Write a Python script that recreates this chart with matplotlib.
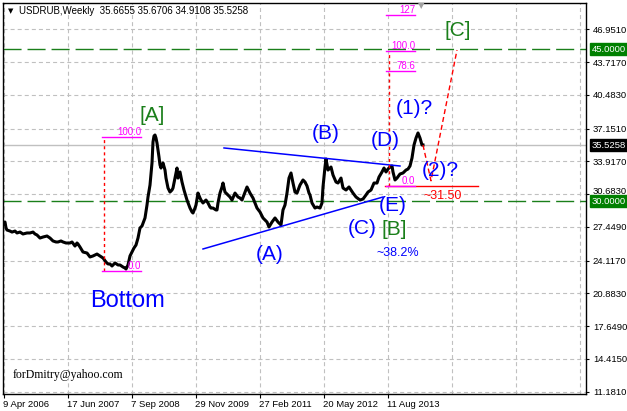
import matplotlib
matplotlib.use('Agg')
import matplotlib.pyplot as plt
import matplotlib.transforms as mtransforms

plt.rcParams['lines.scale_dashes'] = False
plt.rcParams['font.family'] = ['Liberation Sans', 'DejaVu Sans']

# ---------------- data (weekly bar index from 9 Apr 2006, price) ----------------
weeks = [0, 1, 2, 3, 6, 8, 11, 13, 16, 19, 23, 26, 29, 31, 33, 36, 39, 43, 46, 49,
         52, 54, 57, 59, 62, 64, 66, 68, 71, 73, 74, 76, 79, 83, 86, 89, 91, 93, 96, 99,
         102, 104, 106, 108, 111, 114, 116, 119, 121, 122, 124, 126, 128, 130, 132, 134, 136, 138, 141, 143,
         144, 146, 148, 149, 150, 151, 152, 153, 154, 155, 156, 157, 158, 159, 161, 162, 164, 166, 168, 169,
         171, 172, 173, 174, 176, 178, 180, 183, 186, 188, 189, 191, 192, 194, 196, 197, 199, 202, 204, 206,
         207, 209, 212, 213, 214, 216, 218, 219, 221, 224, 226, 228, 231, 234, 236, 238, 241, 243, 246, 249,
         251, 253, 256, 259, 261, 263, 265, 268, 271, 274, 277, 279, 281, 283, 285, 287, 289, 291, 293, 296,
         299, 301, 303, 305, 306, 308, 311, 313, 316, 318, 319, 321, 322, 324, 327, 329, 332, 334, 337, 339,
         342, 345, 349, 352, 356, 359, 362, 364, 367, 370, 373, 375, 378, 380, 382, 384, 386, 388, 389, 391,
         393, 396, 399, 402, 404, 406, 408, 410, 412, 414, 416, 418, 419]
close = [27.83, 27.93, 27.34, 27.14, 27.04, 26.94, 27.04, 26.85, 26.94, 26.75, 26.85, 26.85, 26.94, 26.75, 26.65, 26.35, 26.45, 26.55, 26.35, 26.06,
         25.96, 25.96, 26.06, 25.96, 25.86, 25.86, 25.86, 25.96, 25.56, 25.86, 25.76, 25.46, 24.97, 24.87, 24.48, 24.58, 24.67, 24.77, 24.58, 24.38,
         23.98, 23.79, 23.79, 23.59, 23.89, 23.69, 23.69, 23.49, 23.39, 23.29, 23.69, 24.58, 24.97, 25.37, 25.66, 26.35, 27.34, 27.54, 28.33, 29.61,
         30.40, 31.58, 33.76, 35.83, 36.42, 36.52, 36.22, 35.73, 35.04, 34.35, 33.56, 33.26, 33.56, 33.76, 33.06, 32.27, 31.29, 30.89, 31.09, 31.29,
         32.27, 32.77, 33.26, 32.27, 32.87, 31.88, 31.09, 30.10, 29.31, 28.92, 28.82, 29.31, 29.61, 30.79, 30.30, 30.10, 29.81, 30.10, 29.81, 29.41,
         29.31, 29.31, 29.12, 29.12, 29.81, 30.79, 31.39, 31.78, 30.89, 30.60, 30.40, 30.10, 30.79, 30.40, 30.30, 30.10, 30.89, 31.39, 30.79, 30.30,
         29.81, 29.31, 28.92, 28.33, 28.13, 27.93, 27.44, 27.93, 28.33, 27.93, 27.64, 29.12, 29.61, 30.79, 32.27, 32.77, 31.78, 30.89, 30.79, 31.58,
         32.08, 31.88, 31.49, 30.79, 30.60, 29.81, 29.31, 29.41, 29.31, 29.81, 31.39, 33.36, 34.15, 33.06, 33.36, 32.57, 31.88, 31.78, 32.27, 31.29,
         31.09, 31.39, 30.79, 30.40, 30.10, 30.20, 30.60, 30.89, 31.09, 31.78, 31.78, 32.37, 32.87, 33.26, 32.87, 33.16, 33.36, 33.46, 32.87, 32.08,
         32.27, 32.67, 32.77, 33.06, 33.16, 33.46, 34.25, 35.53, 36.22, 36.72, 36.22, 35.53, 35.53]

date_ticks = [0, 64, 128, 192, 256, 320, 384]
date_labels = ['9 Apr 2006', '17 Jun 2007', '7 Sep 2008', '29 Nov 2009',
               '27 Feb 2011', '20 May 2012', '11 Aug 2013']
grid_weeks = [0, 64, 128, 192, 256, 320, 384, 448, 512, 576]
price_ticks = [11.181, 14.415, 17.649, 20.883, 24.117, 27.449,
               30.683, 33.917, 37.151, 40.483, 43.717, 46.951]

level_high = 45.0
level_low = 30.0
last_close = 35.5258
title_text = 'USDRUB,Weekly  35.6655 35.6706 34.9108 35.5258'

fib1_weeks = [98, 137]
fib1_anchor = 100
fib1_names = ['100.0', '0.0']
fib1_levels = [36.32, 23.13]

fib2_weeks = [382, 411]
fib2_anchor = 385
fib2_names = ['127', '100.0', '78.6', '0.0']
fib2_levels = [48.36, 44.84, 42.87, 31.49]

support_weeks = [381, 474]
support_level = 31.49

proj_weeks = [419, 427, 453]
proj_prices = [35.53, 32.0, 44.91]

tri_upper_weeks = [220, 396]
tri_upper_prices = [35.24, 33.46]
tri_lower_weeks = [199, 379]
tri_lower_prices = [25.27, 30.40]

wave_texts = ['(A)', '(B)', '(C)', '(D)', '(E)', '(1)?', '(2)?']
wave_weeks = [266, 322, 358, 381, 389, 410, 436]
wave_prices = [24.77, 36.62, 27.34, 36.02, 29.61, 39.18, 33.06]

major_texts = ['[A]', '[B]', '[C]']
major_weeks = [148, 390, 454]
major_prices = [38.49, 27.24, 46.88]

# ---------------- figure ----------------
W, H = 627, 411
fig = plt.figure(figsize=(W / 100, H / 100), dpi=100)
ax = fig.add_axes([2.5 / W, 1 - 394 / H, (586 - 2.5) / W, (394 - 3.5) / H])
ax.set_xlim(-1.5, 582)
ax.set_ylim(10.955, 49.50)

grid_kw = dict(color='#c0c0c0', lw=0.8, linestyle=(0, (2.9, 2.2)), zorder=0)
for p in price_ticks:
    ax.axhline(p, **grid_kw)
for w in grid_weeks:
    ax.axvline(w, **grid_kw)

green = '#1a7f1a'
ax.axhline(level_high, color=green, lw=1.0, linestyle=(0, (13, 4.3)), zorder=1)
ax.axhline(level_low, color=green, lw=1.0, linestyle=(0, (13, 4.3)), zorder=1)
ax.axhline(last_close, color='#c0c0c0', lw=1.0, zorder=1)

# price
ax.plot(weeks, close, color='black', lw=2.2, zorder=3)

# triangle
ax.plot(tri_upper_weeks, tri_upper_prices, color='#0000ff', lw=1.1, zorder=4)
ax.plot(tri_lower_weeks, tri_lower_prices, color='#0000ff', lw=1.1, zorder=4)

# fib 1
mag = '#ff00ff'
ax.plot([fib1_anchor, fib1_anchor], [min(fib1_levels), max(fib1_levels)], color='red',
        lw=1.0, linestyle=(0, (2.2, 2.2)), zorder=4)
for name, lev in zip(fib1_names, fib1_levels):
    ax.plot(fib1_weeks, [lev, lev], color=mag, lw=1.0, zorder=4)
    ax.text(fib1_weeks[1], lev, name, color=mag, fontsize=7, ha='right', va='bottom', zorder=5)

# fib 2
ax.plot(support_weeks, [support_level, support_level], color='red', lw=1.0, zorder=4)
ax.plot([fib2_anchor, fib2_anchor], [fib2_levels[3], fib2_levels[1]], color='red',
        lw=1.0, linestyle=(0, (2.2, 2.2)), zorder=4)
for name, lev in zip(fib2_names, fib2_levels):
    ax.plot(fib2_weeks, [lev, lev], color=mag, lw=1.0, zorder=4)
    ax.text(fib2_weeks[1], lev, name, color=mag, fontsize=7, ha='right', va='bottom', zorder=5)

# projection
ax.plot(proj_weeks, proj_prices, color='red', lw=1.0, linestyle=(0, (3.6, 2.2)), zorder=4)

# labels
for t, w, p in zip(wave_texts, wave_weeks, wave_prices):
    ax.text(w, p, t, color='#0000ff', fontsize=15, ha='center', va='center', zorder=6)
for t, w, p in zip(major_texts, major_weeks, major_prices):
    ax.text(w, p, t, color=green, fontsize=15, ha='center', va='center', zorder=6)
ax.text(123, 20.14, 'Bottom', color='#0000ff', fontsize=17, ha='center', va='center', zorder=6)
ax.text(394, 24.87, '~38.2%', color='#0000ff', fontsize=9, ha='center', va='center', zorder=6)
ax.text(439, 30.50, '~31.50', color='red', fontsize=9, ha='center', va='center', zorder=6)
ax.text(10 / 583.5, 1 - (375 - 3.5) / 390.5, 'forDmitry@yahoo.com', transform=ax.transAxes,
        fontsize=8.5, family='Liberation Serif', color='black', ha='left', va='center')

# title
fig.text(19 / W, 1 - 11 / H, title_text, fontsize=7, color='black', ha='left', va='center')
fig.text(11 / W, 1 - 11 / H, '\u25bc', fontsize=5, color='black', ha='center', va='center',
         family='DejaVu Sans')
# chart shift marker
fig.text(421 / W, 1 - 6 / H, '\u25bc', fontsize=6, color='#a0a0a0', ha='center', va='center',
         family='DejaVu Sans')

# axes styling
for s in ax.spines.values():
    s.set_color('black')
    s.set_linewidth(1.0)
ax.yaxis.tick_right()
ax.set_yticks(price_ticks)
ax.set_yticklabels(['%.4f' % v for v in price_ticks])
ax.set_xticks(date_ticks)
ax.set_xticklabels(date_labels)
for lab in ax.get_xticklabels():
    lab.set_horizontalalignment('left')
ax.tick_params(axis='y', direction='out', length=2.5, width=0.8, pad=2.5, labelsize=6.8,
               left=False, right=True)
ax.tick_params(axis='x', direction='out', length=3, width=0.8, pad=1.5, labelsize=6.8)
offset = mtransforms.ScaledTranslation(-1 / 100, 0, fig.dpi_scale_trans)
for lab in ax.get_xticklabels():
    lab.set_transform(lab.get_transform() + offset)
# the 30.6830 label sits just above the 30.0000 marker box
up = mtransforms.ScaledTranslation(0, 4 / 100, fig.dpi_scale_trans)
for lab in ax.get_yticklabels():
    if lab.get_text() == '30.6830':
        lab.set_transform(lab.get_transform() + up)

trans = mtransforms.blended_transform_factory(ax.transAxes, ax.transData)
for val, txt, col in [(level_high, '45.0000', '#008000'), (last_close, '35.5258', 'black'),
                      (level_low, '30.0000', '#008000')]:
    ax.text(1.0 + 6 / 583.5, val, txt, transform=trans, color='white', fontsize=6.8,
            ha='left', va='center', clip_on=False, zorder=10,
            bbox=dict(boxstyle='square,pad=0.2', facecolor=col, edgecolor=col))

fig.savefig('out.png', dpi=100)
